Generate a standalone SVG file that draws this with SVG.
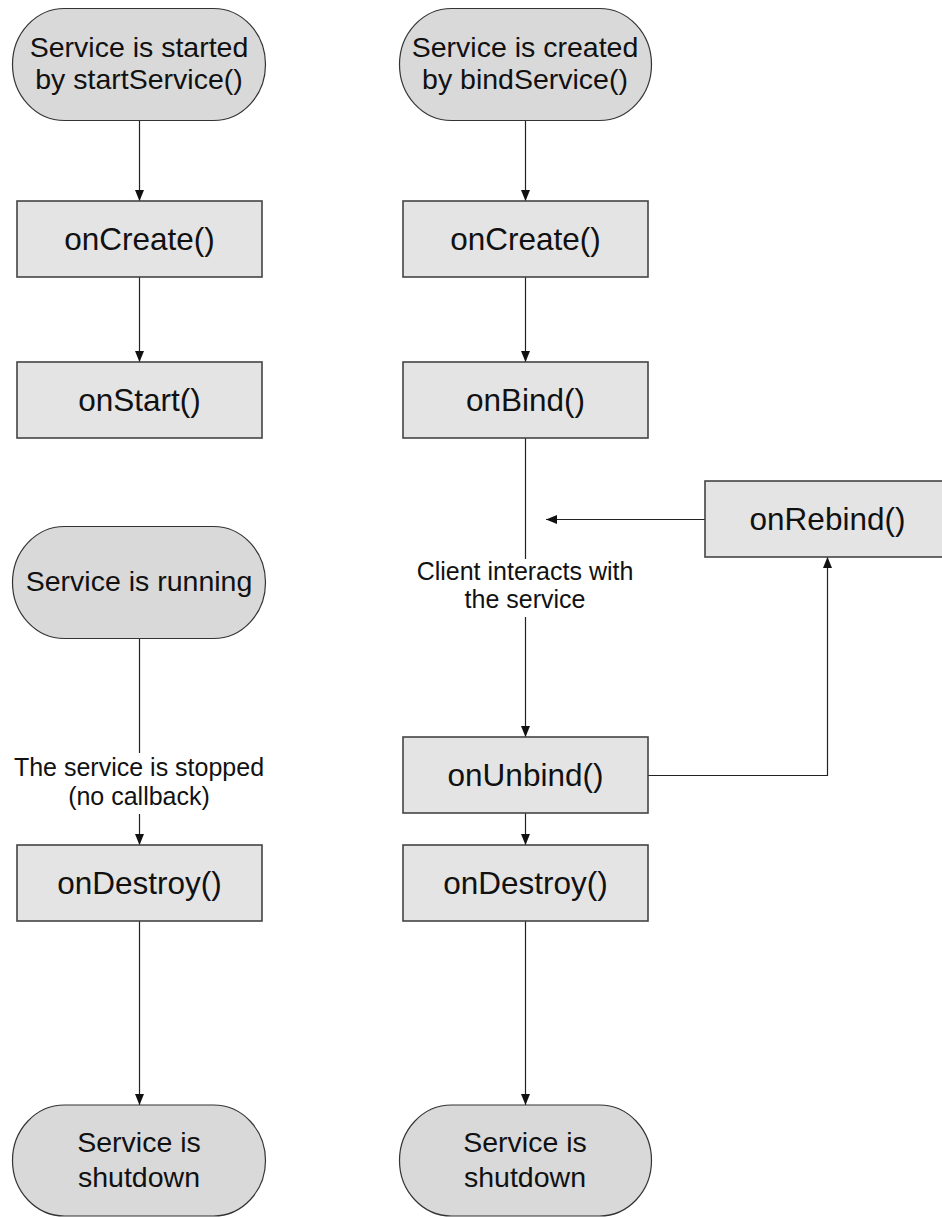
<svg xmlns="http://www.w3.org/2000/svg" width="942" height="1217" viewBox="0 0 942 1217">
<defs>
<marker id="arr" markerUnits="userSpaceOnUse" markerWidth="11" markerHeight="10" refX="11" refY="5" orient="auto">
<path d="M0,0.5 L11,5 L0,9.5 z" fill="#111"/>
</marker>
<style>
.term{fill:#d9d9d9;stroke:#333;stroke-width:1.2}
.box{fill:#e4e4e4;stroke:#444;stroke-width:1.6}
.tt{font-family:"Liberation Sans",Arial,sans-serif;font-size:28.5px;fill:#111;text-anchor:middle}
.bt{font-family:"Liberation Sans",Arial,sans-serif;font-size:31.5px;fill:#111;text-anchor:middle}
.lt{font-family:"Liberation Sans",Arial,sans-serif;font-size:25px;fill:#111;text-anchor:middle}
.c{fill:none;stroke:#222;stroke-width:1.2}
.ca{fill:none;stroke:#222;stroke-width:1.2;marker-end:url(#arr)}
</style>
</defs>
<rect width="942" height="1217" fill="#fff"/>
<g id="connectors">
<line class="ca" x1="139.5" y1="120" x2="139.5" y2="201"/>
<line class="ca" x1="139.5" y1="277" x2="139.5" y2="362"/>
<line class="c" x1="139.5" y1="638" x2="139.5" y2="753"/>
<line class="ca" x1="139.5" y1="814" x2="139.5" y2="845"/>
<line class="ca" x1="139.5" y1="921" x2="139.5" y2="1105"/>
<line class="ca" x1="525.5" y1="120" x2="525.5" y2="201"/>
<line class="ca" x1="525.5" y1="277" x2="525.5" y2="362"/>
<line class="c" x1="525.5" y1="438" x2="525.5" y2="559"/>
<line class="ca" x1="525.5" y1="617" x2="525.5" y2="737"/>
<line class="ca" x1="525.5" y1="813" x2="525.5" y2="845"/>
<line class="ca" x1="525.5" y1="921" x2="525.5" y2="1105"/>
<line class="ca" x1="705" y1="519.5" x2="546" y2="519.5"/>
<polyline class="ca" points="648,775.5 827.5,775.5 827.5,557"/>
<text class="lt" x="139" y="776">The service is stopped</text>
<text class="lt" x="139" y="805">(no callback)</text>
<text class="lt" x="525" y="580">Client interacts with</text>
<text class="lt" x="525" y="608">the service</text>
</g>
<g id="start-left">
<rect class="term" x="12.5" y="8.5" width="253" height="112" rx="52" ry="56"/>
<text class="tt" x="139" y="57">Service is started</text>
<text class="tt" x="139" y="89">by startService()</text>
</g>
<g id="oncreate-left">
<rect class="box" x="17" y="201" width="245" height="76"/>
<text class="bt" x="139.5" y="250">onCreate()</text>
</g>
<g id="onstart">
<rect class="box" x="17" y="362" width="245" height="76"/>
<text class="bt" x="139.5" y="411">onStart()</text>
</g>
<g id="running">
<rect class="term" x="12.5" y="526.5" width="253" height="112" rx="52" ry="56"/>
<text class="tt" x="139" y="591">Service is running</text>
</g>
<g id="ondestroy-left">
<rect class="box" x="17" y="845" width="245" height="76"/>
<text class="bt" x="139.5" y="894">onDestroy()</text>
</g>
<g id="shutdown-left">
<rect class="term" x="12.5" y="1105" width="253" height="111" rx="52" ry="55.5"/>
<text class="tt" x="139" y="1152">Service is</text>
<text class="tt" x="139" y="1187">shutdown</text>
</g>
<g id="start-right">
<rect class="term" x="399.5" y="8.5" width="252" height="112" rx="52" ry="56"/>
<text class="tt" x="525" y="57">Service is created</text>
<text class="tt" x="525" y="89">by bindService()</text>
</g>
<g id="oncreate-right">
<rect class="box" x="403" y="201" width="245" height="76"/>
<text class="bt" x="525.5" y="250">onCreate()</text>
</g>
<g id="onbind">
<rect class="box" x="403" y="362" width="245" height="76"/>
<text class="bt" x="525.5" y="411">onBind()</text>
</g>
<g id="onrebind">
<rect class="box" x="705" y="481" width="245" height="76"/>
<text class="bt" x="827.5" y="530">onRebind()</text>
</g>
<g id="onunbind">
<rect class="box" x="403" y="737" width="245" height="76"/>
<text class="bt" x="525.5" y="786">onUnbind()</text>
</g>
<g id="ondestroy-right">
<rect class="box" x="403" y="845" width="245" height="76"/>
<text class="bt" x="525.5" y="894">onDestroy()</text>
</g>
<g id="shutdown-right">
<rect class="term" x="399.5" y="1105" width="252" height="111" rx="52" ry="55.5"/>
<text class="tt" x="525" y="1152">Service is</text>
<text class="tt" x="525" y="1187">shutdown</text>
</g>
</svg>
